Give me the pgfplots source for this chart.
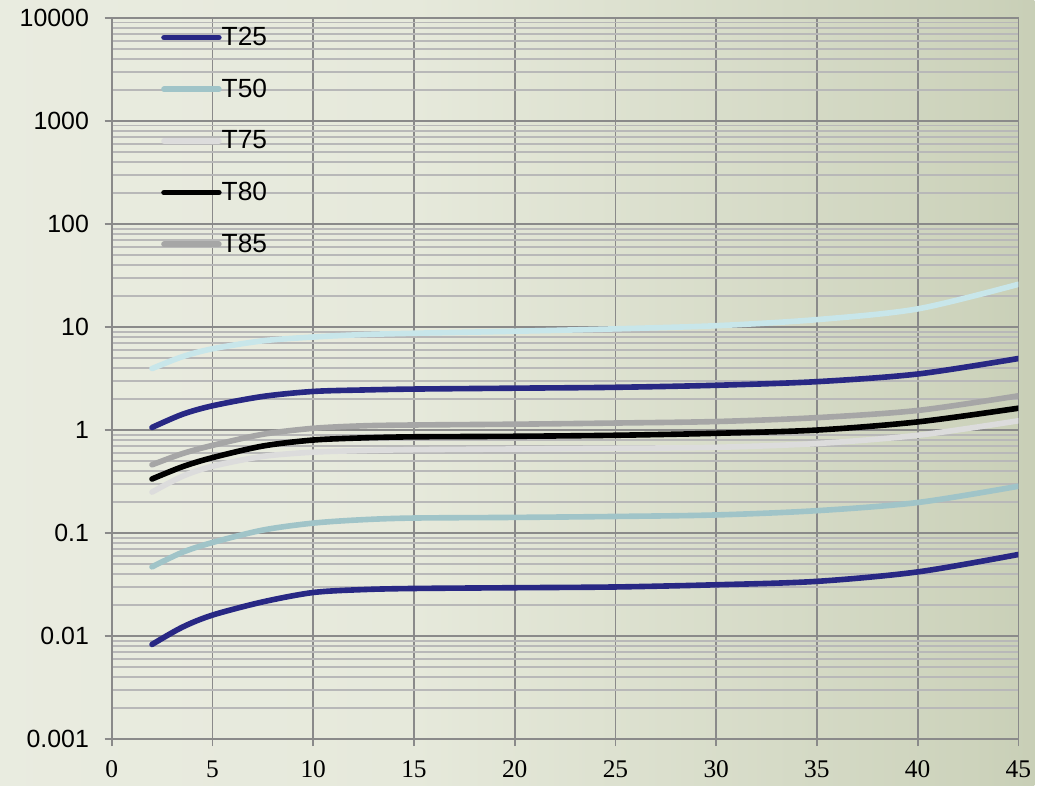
\documentclass[border=0pt]{standalone}
\usepackage{fontspec}
\setmainfont{Liberation Sans}
\newfontfamily\seriffont{Liberation Serif}
\usepackage{pgfplots}
\pgfplotsset{compat=1.18}
\definecolor{dblue}{HTML}{282884}
\definecolor{tfifty}{HTML}{A0C4C8}
\definecolor{tcyan}{HTML}{C8E6EA}
\definecolor{tsevfive}{HTML}{DCDCDC}
\definecolor{teightfive}{HTML}{A6A6A6}
\definecolor{gridmaj}{HTML}{8A8A8A}
\definecolor{gridmin}{HTML}{B8B8B8}
\definecolor{bgA}{HTML}{EDEFE6}
\definecolor{bgB}{HTML}{E6E9DB}
\definecolor{bgC}{HTML}{CDD3BC}
\definecolor{bgD}{HTML}{ADB696}
\definecolor{bgE}{HTML}{8F997A}
\pgfdeclarehorizontalshading{bgshade}{100bp}{color(0bp)=(bgA); color(45bp)=(bgB); color(72bp)=(bgC); color(92bp)=(bgD); color(100bp)=(bgE)}
\begin{document}
\begin{tikzpicture}
\shade[shading=bgshade] (-2.24,-0.92) rectangle (18.5,14.82);
\begin{axis}[
  at={(0,0)}, anchor=south west, scale only axis,
  width=18.18cm, height=14.46cm,
  ymode=log, xmin=0, xmax=45, ymin=1e-3, ymax=1e4,
  xtick={0,5,...,45},
  ytick={1e-3,1e-2,1e-1,1,10,100,1000,10000},
  yticklabels={0.001,0.01,0.1,1,10,100,1000,10000},
  grid=both,
  major grid style={draw=gridmaj, line width=1pt},
  minor grid style={draw=gridmin, line width=0.9pt},
  axis line style={draw=gridmaj, line width=1pt},
  tick pos=left, tick align=outside,
  major tick length=0.14cm, minor tick length=0pt,
  tick style={draw=gridmaj, line width=1pt},
  yticklabel style={font=\fontsize{14.2}{16}\selectfont, xshift=-5.5pt},
  xticklabel style={font=\seriffont\fontsize{14.5}{16}\selectfont, yshift=-4.7pt},
  /pgf/number format/assume math mode=true,
  legend cell align=left,
  legend style={draw=none, fill=none, at={(0.0484,1.0139)}, anchor=north west,
    nodes={inner sep=0pt, minimum height=1.036cm}, row sep=0pt,
    font=\fontsize{15}{17}\selectfont},
  legend image code/.code={\draw[#1, line width=3.2pt, line cap=round] (0cm,0cm) -- (1.1cm,0cm);},
  every axis plot/.append style={line width=3.2pt, line cap=round, smooth, no markers},
]
\addplot[tcyan, forget plot] coordinates {(2,3.95) (3.5,5.15) (5,6.15) (7.5,7.35) (10,8.0) (12.5,8.45) (15,8.7) (20,9.1) (25,9.6) (30,10.3) (35,11.8) (40,15.0) (45,26)};
\addplot[dblue, forget plot] coordinates {(2,1.06) (3.5,1.42) (5,1.72) (7.5,2.12) (10,2.37) (12.5,2.45) (15,2.5) (20,2.55) (25,2.6) (30,2.72) (35,2.95) (40,3.5) (45,4.95)};
\addplot[dblue] coordinates {(2,0.0083) (3.5,0.0122) (5,0.016) (7.5,0.0215) (10,0.0265) (12.5,0.0283) (15,0.029) (20,0.0295) (25,0.030) (30,0.0315) (35,0.034) (40,0.042) (45,0.062)};
\addlegendentry{T25}
\addplot[tfifty] coordinates {(2,0.047) (3.5,0.065) (5,0.081) (7.5,0.107) (10,0.125) (12.5,0.135) (15,0.14) (20,0.142) (25,0.145) (30,0.15) (35,0.165) (40,0.198) (45,0.285)};
\addlegendentry{T50}
\addplot[tsevfive] coordinates {(2,0.25) (3.5,0.355) (5,0.445) (7.5,0.555) (10,0.61) (12.5,0.633) (15,0.645) (20,0.655) (25,0.665) (30,0.68) (35,0.74) (40,0.89) (45,1.23)};
\addlegendentry{T75}
\addplot[black] coordinates {(2,0.335) (3.5,0.44) (5,0.54) (7.5,0.70) (10,0.80) (12.5,0.84) (15,0.86) (20,0.87) (25,0.89) (30,0.93) (35,1.0) (40,1.2) (45,1.63)};
\addlegendentry{T80}
\addplot[teightfive] coordinates {(2,0.46) (3.5,0.59) (5,0.71) (7.5,0.91) (10,1.04) (12.5,1.1) (15,1.12) (20,1.14) (25,1.17) (30,1.21) (35,1.32) (40,1.55) (45,2.15)};
\addlegendentry{T85}
\end{axis}
\end{tikzpicture}
\end{document}
